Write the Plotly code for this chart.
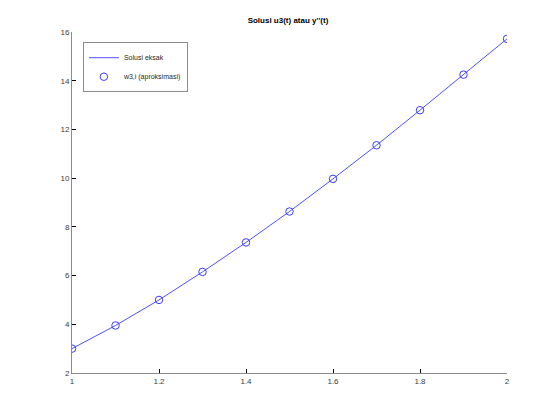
import plotly.graph_objects as go

t = [1.0, 1.1, 1.2, 1.3, 1.4, 1.5, 1.6, 1.7, 1.8, 1.9, 2.0]
exact = [3.00, 3.95, 5.00, 6.15, 7.36, 8.63, 9.97, 11.35, 12.79, 14.25, 15.72]
approx = [3.00, 3.95, 5.00, 6.15, 7.36, 8.63, 9.97, 11.35, 12.79, 14.25, 15.72]
xticks = [1, 1.2, 1.4, 1.6, 1.8, 2]
yticks = [2, 4, 6, 8, 10, 12, 14, 16]

fig = go.Figure()
fig.add_trace(go.Scatter(x=t, y=exact, mode="lines", name="Solusi eksak",
                         line=dict(color="rgb(80,80,255)", width=1)))
fig.add_trace(go.Scatter(x=t, y=approx, mode="markers", name="w3,i (aproksimasi)",
                         marker=dict(symbol="circle-open", size=7.5,
                                     color="rgb(60,60,255)", line=dict(width=1))))

axis_common = dict(showgrid=False, zeroline=False, ticks="inside", ticklen=4,
                   tickcolor="black", showline=True, linecolor="rgb(140,140,140)",
                   linewidth=1, tickfont=dict(size=8, color="rgb(60,60,60)",
                                              family="Liberation Sans, Arial"),
                   mirror=False)
fig.update_xaxes(range=[1, 2], tickvals=xticks, ticktext=[str(v) for v in xticks],
                 **axis_common)
fig.update_yaxes(range=[2, 16], tickvals=yticks, ticktext=[str(v) for v in yticks],
                 **axis_common)

fig.update_layout(
    width=560, height=420,
    margin=dict(l=64, r=61, t=24, b=55),
    paper_bgcolor="white", plot_bgcolor="white",
    title=dict(text="<b>Solusi u3(t) atau y''(t)</b>", x=0.5, xanchor="center",
               y=0.971, yanchor="middle",
               font=dict(size=8, color="black", family="Liberation Sans, Arial")),
    showlegend=True,
    legend=dict(x=0.025, y=0.97, xanchor="left", yanchor="top",
                bgcolor="white", bordercolor="rgb(140,140,140)", borderwidth=1,
                font=dict(size=7, color="rgb(40,40,40)", family="Liberation Sans, Arial"),
                itemwidth=30, tracegroupgap=0),
)

fig.write_html("out.html")
